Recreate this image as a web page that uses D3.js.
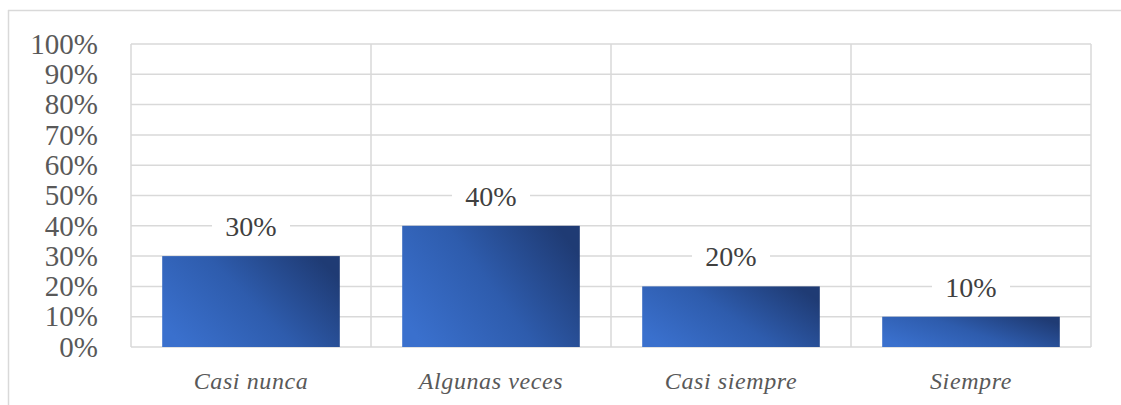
<!DOCTYPE html>
<html><head><meta charset="utf-8">
<script src="https://cdn.jsdelivr.net/npm/d3@7"></script>
<style>body{margin:0;background:#fff;} svg{display:block;}</style>
</head><body>
<script>
const categories = ["Casi nunca", "Algunas veces", "Casi siempre", "Siempre"];
const values = [0.30, 0.40, 0.20, 0.10];
const yTicks = [0, 0.1, 0.2, 0.3, 0.4, 0.5, 0.6, 0.7, 0.8, 0.9, 1.0];

(function () {
const W = 1121, H = 405;
const FONT = "'Liberation Serif', Tinos, 'Times New Roman', Times, 'DejaVu Serif', serif";
const svg = d3.select("body").append("svg").attr("width", W).attr("height", H);

const defs = svg.append("defs");
const grad = defs.append("linearGradient").attr("id", "barGrad")
  .attr("x1", 0).attr("y1", 0.75).attr("x2", 1).attr("y2", 0.25);
grad.append("stop").attr("offset", "0%").attr("stop-color", "#3a70cd");
grad.append("stop").attr("offset", "50%").attr("stop-color", "#2e5cad");
grad.append("stop").attr("offset", "100%").attr("stop-color", "#1f3b74");

// outer frame (top and left)
svg.append("line").attr("x1", 8).attr("x2", W).attr("y1", 10.5).attr("y2", 10.5)
  .attr("stroke", "#d9d9d9").attr("stroke-width", 1.5);
svg.append("line").attr("x1", 8.5).attr("x2", 8.5).attr("y1", 10).attr("y2", H)
  .attr("stroke", "#d9d9d9").attr("stroke-width", 1.5);

const pL = 131, pR = 1091, pT = 44, pB = 347;
const x = d3.scaleBand().domain(categories).range([pL, pR]).paddingInner(0.26).paddingOuter(0.13);
const xb = d3.scaleBand().domain(categories).range([pL, pR]).padding(0);
const y = d3.scaleLinear().domain([0, 1]).range([pB, pT]);

const grid = svg.append("g");
grid.selectAll("line.h").data(yTicks).join("line")
  .attr("x1", pL).attr("x2", pR)
  .attr("y1", d => y(d)).attr("y2", d => y(d))
  .attr("stroke", "#d9d9d9").attr("stroke-width", 1.5);
const vb = categories.map(c => xb(c)).concat([pR]);
grid.selectAll("line.v").data(vb).join("line")
  .attr("x1", d => d).attr("x2", d => d)
  .attr("y1", pT).attr("y2", pB)
  .attr("stroke", "#d9d9d9").attr("stroke-width", 1.5);

// y tick labels
const yAxis = d3.axisLeft(y).tickValues(yTicks).tickFormat(d3.format(".0%")).tickSize(0).tickPadding(0);
const ya = svg.append("g").attr("transform", "translate(98,0)").call(yAxis);
ya.attr("font-family", FONT).attr("font-size", 29);
ya.select(".domain").remove();
ya.selectAll("text").attr("fill", "#595959").attr("dy", "0.32em");

// bars
svg.selectAll("rect.bar").data(values).join("rect")
  .attr("x", (d, i) => x(categories[i]))
  .attr("width", x.bandwidth())
  .attr("y", d => y(d))
  .attr("height", d => pB - y(d))
  .attr("fill", "url(#barGrad)");

// value labels with white background
const lab = svg.selectAll("g.lab").data(values).join("g")
  .attr("transform", (d, i) => `translate(${x(categories[i]) + x.bandwidth() / 2},${y(d) - 30})`);
lab.append("rect").attr("x", -39).attr("y", -14).attr("width", 78).attr("height", 28).attr("fill", "#fff");
lab.append("text").attr("text-anchor", "middle").attr("dy", "0.35em")
  .attr("font-family", FONT)
  .attr("font-size", 28).attr("fill", "#404040")
  .text(d => d3.format(".0%")(d));

// category labels
const xAxis = d3.axisBottom(xb).tickSize(0).tickPadding(0);
const xa = svg.append("g").attr("transform", `translate(0,${pB})`).call(xAxis);
xa.attr("font-family", FONT).attr("font-size", 24);
xa.select(".domain").remove();
xa.selectAll("text").attr("font-style", "italic").attr("fill", "#595959")
  .attr("dy", null).attr("y", 42).attr("letter-spacing", 0.6);
})();
</script>
</body></html>
